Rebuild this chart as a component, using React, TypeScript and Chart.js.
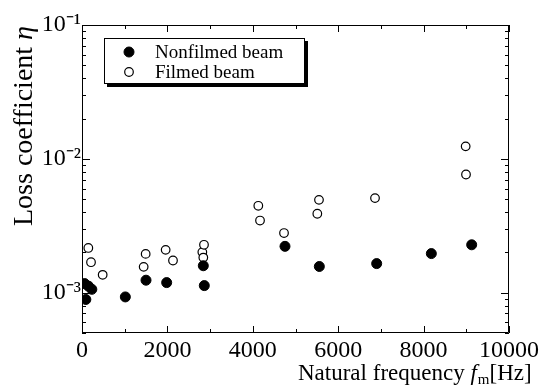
import React, { useEffect, useRef } from 'react';
import { Chart, registerables } from 'chart.js';

Chart.register(...registerables);

// ---- data ----
const nonfilmedLabel = 'Nonfilmed beam';
const nonfilmedFreq = [60, 150, 230, 90, 1015, 1499, 1983, 2841, 2864, 4754, 5558, 6901, 8181, 9126];
const nonfilmedLoss = [1.17e-3, 1.12e-3, 1.06e-3, 0.89e-3, 0.93e-3, 1.24e-3, 1.19e-3, 1.59e-3, 1.13e-3, 2.22e-3, 1.57e-3, 1.65e-3, 1.96e-3, 2.28e-3];

const filmedLabel = 'Filmed beam';
const filmedFreq = [148, 211, 484, 1444, 1491, 1959, 2131, 2818, 2841, 2857, 4129, 4169, 4731, 5511, 5550, 6862, 8985, 8993];
const filmedLoss = [2.16e-3, 1.69e-3, 1.36e-3, 1.56e-3, 1.95e-3, 2.09e-3, 1.74e-3, 2.01e-3, 1.83e-3, 2.28e-3, 4.46e-3, 3.46e-3, 2.79e-3, 3.89e-3, 4.94e-3, 5.09e-3, 1.24e-2, 7.64e-3];

const xMin = 0;
const xMax = 10000;
const xMajorStep = 2000;
const xMinorStep = 1000;
const xTickLabels = ['0', '2000', '4000', '6000', '8000', '10000'];
const yMin = 5e-4;
const yMax = 1e-1;
const yTickValues = [1e-3, 1e-2, 1e-1];
const yTickLabels = ['10⁻³', '10⁻²', '10⁻¹'];

const xTitleMain = 'Natural frequency ';
const xTitleVar = 'f';
const xTitleSub = 'm';
const xTitleUnit = '[Hz]';
const yTitleMain = 'Loss coefficient ';
const yTitleVar = 'η';

const SERIF = '"Liberation Serif", "Times New Roman", serif';

const framePlugin = {
  id: 'frameTicks',
  afterDatasetsDraw(chart: any) {
    const { ctx, chartArea: a, scales } = chart;
    const x = scales.x;
    const y = scales.y;
    ctx.save();
    ctx.strokeStyle = '#000';
    ctx.lineWidth = 1;
    ctx.beginPath();
    ctx.rect(a.left + 0.5, a.top + 0.5, a.right - a.left - 1, a.bottom - a.top - 1);
    ctx.stroke();
    ctx.beginPath();
    for (let v = xMin; v <= xMax; v += xMinorStep) {
      const px = Math.round(x.getPixelForValue(v)) + 0.5;
      const len = v % xMajorStep === 0 ? 7 : 4;
      ctx.moveTo(px, a.bottom);
      ctx.lineTo(px, a.bottom - len);
      ctx.moveTo(px, a.top);
      ctx.lineTo(px, a.top + len);
    }
    for (let e = -4; e <= -1; e++) {
      for (let m = 1; m <= 9; m++) {
        const v = m * Math.pow(10, e);
        if (v < yMin * 0.999 || v > yMax * 1.001) continue;
        const py = Math.round(y.getPixelForValue(v)) + 0.5;
        const len = m === 1 ? 8 : 4;
        ctx.moveTo(a.left, py);
        ctx.lineTo(a.left + len, py);
        ctx.moveTo(a.right, py);
        ctx.lineTo(a.right - len, py);
      }
    }
    ctx.stroke();
    ctx.restore();
  },
};

const legendPlugin = {
  id: 'boxLegend',
  afterDraw(chart: any) {
    const { ctx, chartArea: a } = chart;
    const left = a.left + 22;
    const top = a.top + 13;
    const w = 201;
    const h = 46;
    ctx.save();
    ctx.fillStyle = '#000';
    ctx.fillRect(left + 3, top + 3, w, h);
    ctx.fillStyle = '#fff';
    ctx.fillRect(left, top, w, h);
    ctx.strokeStyle = '#000';
    ctx.lineWidth = 1;
    ctx.strokeRect(left + 0.5, top + 0.5, w - 1, h - 1);
    const ds = chart.data.datasets;
    ds.forEach((d: any, i: number) => {
      const cy = top + 14 + i * 20;
      const cx = left + 25;
      ctx.beginPath();
      ctx.arc(cx, cy, d.pointRadius, 0, Math.PI * 2);
      ctx.fillStyle = d.pointBackgroundColor;
      ctx.fill();
      ctx.lineWidth = d.pointBorderWidth;
      ctx.strokeStyle = '#000';
      ctx.stroke();
      ctx.fillStyle = '#000';
      ctx.font = `19px ${SERIF}`;
      ctx.textAlign = 'left';
      ctx.textBaseline = 'middle';
      ctx.fillText(d.label, left + 51, cy + 1);
    });
    ctx.restore();
  },
};

const titlePlugin = {
  id: 'axisTitles',
  afterDraw(chart: any) {
    const { ctx } = chart;
    ctx.save();
    ctx.fillStyle = '#000';
    ctx.textBaseline = 'alphabetic';
    ctx.textAlign = 'left';
    // x title
    let tx = 298;
    const ty = 380;
    ctx.font = `23px ${SERIF}`;
    ctx.fillText(xTitleMain, tx, ty);
    tx += ctx.measureText(xTitleMain).width;
    ctx.font = `italic 23px ${SERIF}`;
    ctx.fillText(xTitleVar, tx, ty);
    tx += ctx.measureText(xTitleVar).width + 1;
    ctx.font = `15px ${SERIF}`;
    ctx.fillText(xTitleSub, tx, ty + 4);
    tx += ctx.measureText(xTitleSub).width;
    ctx.font = `23px ${SERIF}`;
    ctx.fillText(xTitleUnit, tx, ty);
    // y title
    ctx.translate(32, 226);
    ctx.rotate(-Math.PI / 2);
    ctx.font = `28px ${SERIF}`;
    ctx.fillText(yTitleMain, 0, 0);
    const wMain = ctx.measureText(yTitleMain).width;
    ctx.font = `italic 28px ${SERIF}`;
    ctx.fillText(yTitleVar, wMain, 0);
    ctx.restore();
  },
};

export default function App() {
  const canvasRef = useRef<HTMLCanvasElement | null>(null);

  useEffect(() => {
    if (!canvasRef.current) return;
    const chart = new Chart(canvasRef.current, {
      type: 'scatter',
      data: {
        datasets: [
          {
            label: nonfilmedLabel,
            data: nonfilmedFreq.map((f, i) => ({ x: f, y: nonfilmedLoss[i] })),
            pointRadius: 5,
            pointHoverRadius: 5,
            pointBackgroundColor: '#000',
            pointBorderColor: '#000',
            pointBorderWidth: 1,
            showLine: false,
          },
          {
            label: filmedLabel,
            data: filmedFreq.map((f, i) => ({ x: f, y: filmedLoss[i] })),
            pointRadius: 4.3,
            pointHoverRadius: 4.3,
            pointBackgroundColor: '#fff',
            pointBorderColor: '#000',
            pointBorderWidth: 1.2,
            showLine: false,
          },
        ],
      } as any,
      options: {
        animation: false,
        responsive: false,
        devicePixelRatio: 1,
        layout: { padding: { left: 0, top: 25, right: 36, bottom: 0 } },
        plugins: {
          legend: { display: false },
          tooltip: { enabled: false },
        },
        scales: {
          x: {
            type: 'linear',
            position: 'bottom',
            min: xMin,
            max: xMax,
            grid: { display: false, drawTicks: false },
            border: { display: false },
            ticks: {
              stepSize: xMajorStep,
              maxRotation: 0,
              autoSkip: false,
              color: '#000',
              padding: 3,
              font: { family: SERIF, size: 24 },
              callback: (value: any) => {
                const idx = Math.round((Number(value) - xMin) / xMajorStep);
                return xTickLabels[idx] ?? '';
              },
            },
            afterFit(scale: any) {
              scale.height = 58;
            },
          },
          y: {
            type: 'logarithmic',
            position: 'left',
            min: yMin,
            max: yMax,
            grid: { display: false, drawTicks: false },
            border: { display: false },
            afterBuildTicks(scale: any) {
              scale.ticks = yTickValues.map((v) => ({ value: v, major: true }));
            },
            ticks: {
              autoSkip: false,
              color: '#000',
              padding: 1,
              font: { family: SERIF, size: 24 },
              callback: (value: any) => {
                const idx = yTickValues.findIndex((v) => Math.abs(v - Number(value)) / v < 1e-6);
                return idx >= 0 ? yTickLabels[idx] : '';
              },
            },
            afterFit(scale: any) {
              scale.width = 82;
            },
          },
        },
      } as any,
      plugins: [framePlugin, legendPlugin, titlePlugin],
    });
    return () => chart.destroy();
  }, []);

  return (
    <div style={{ position: 'fixed', left: 0, top: 0, width: 545, height: 391, background: '#fff' }}>
      <canvas ref={canvasRef} width={545} height={391} style={{ display: 'block' }} />
    </div>
  );
}
